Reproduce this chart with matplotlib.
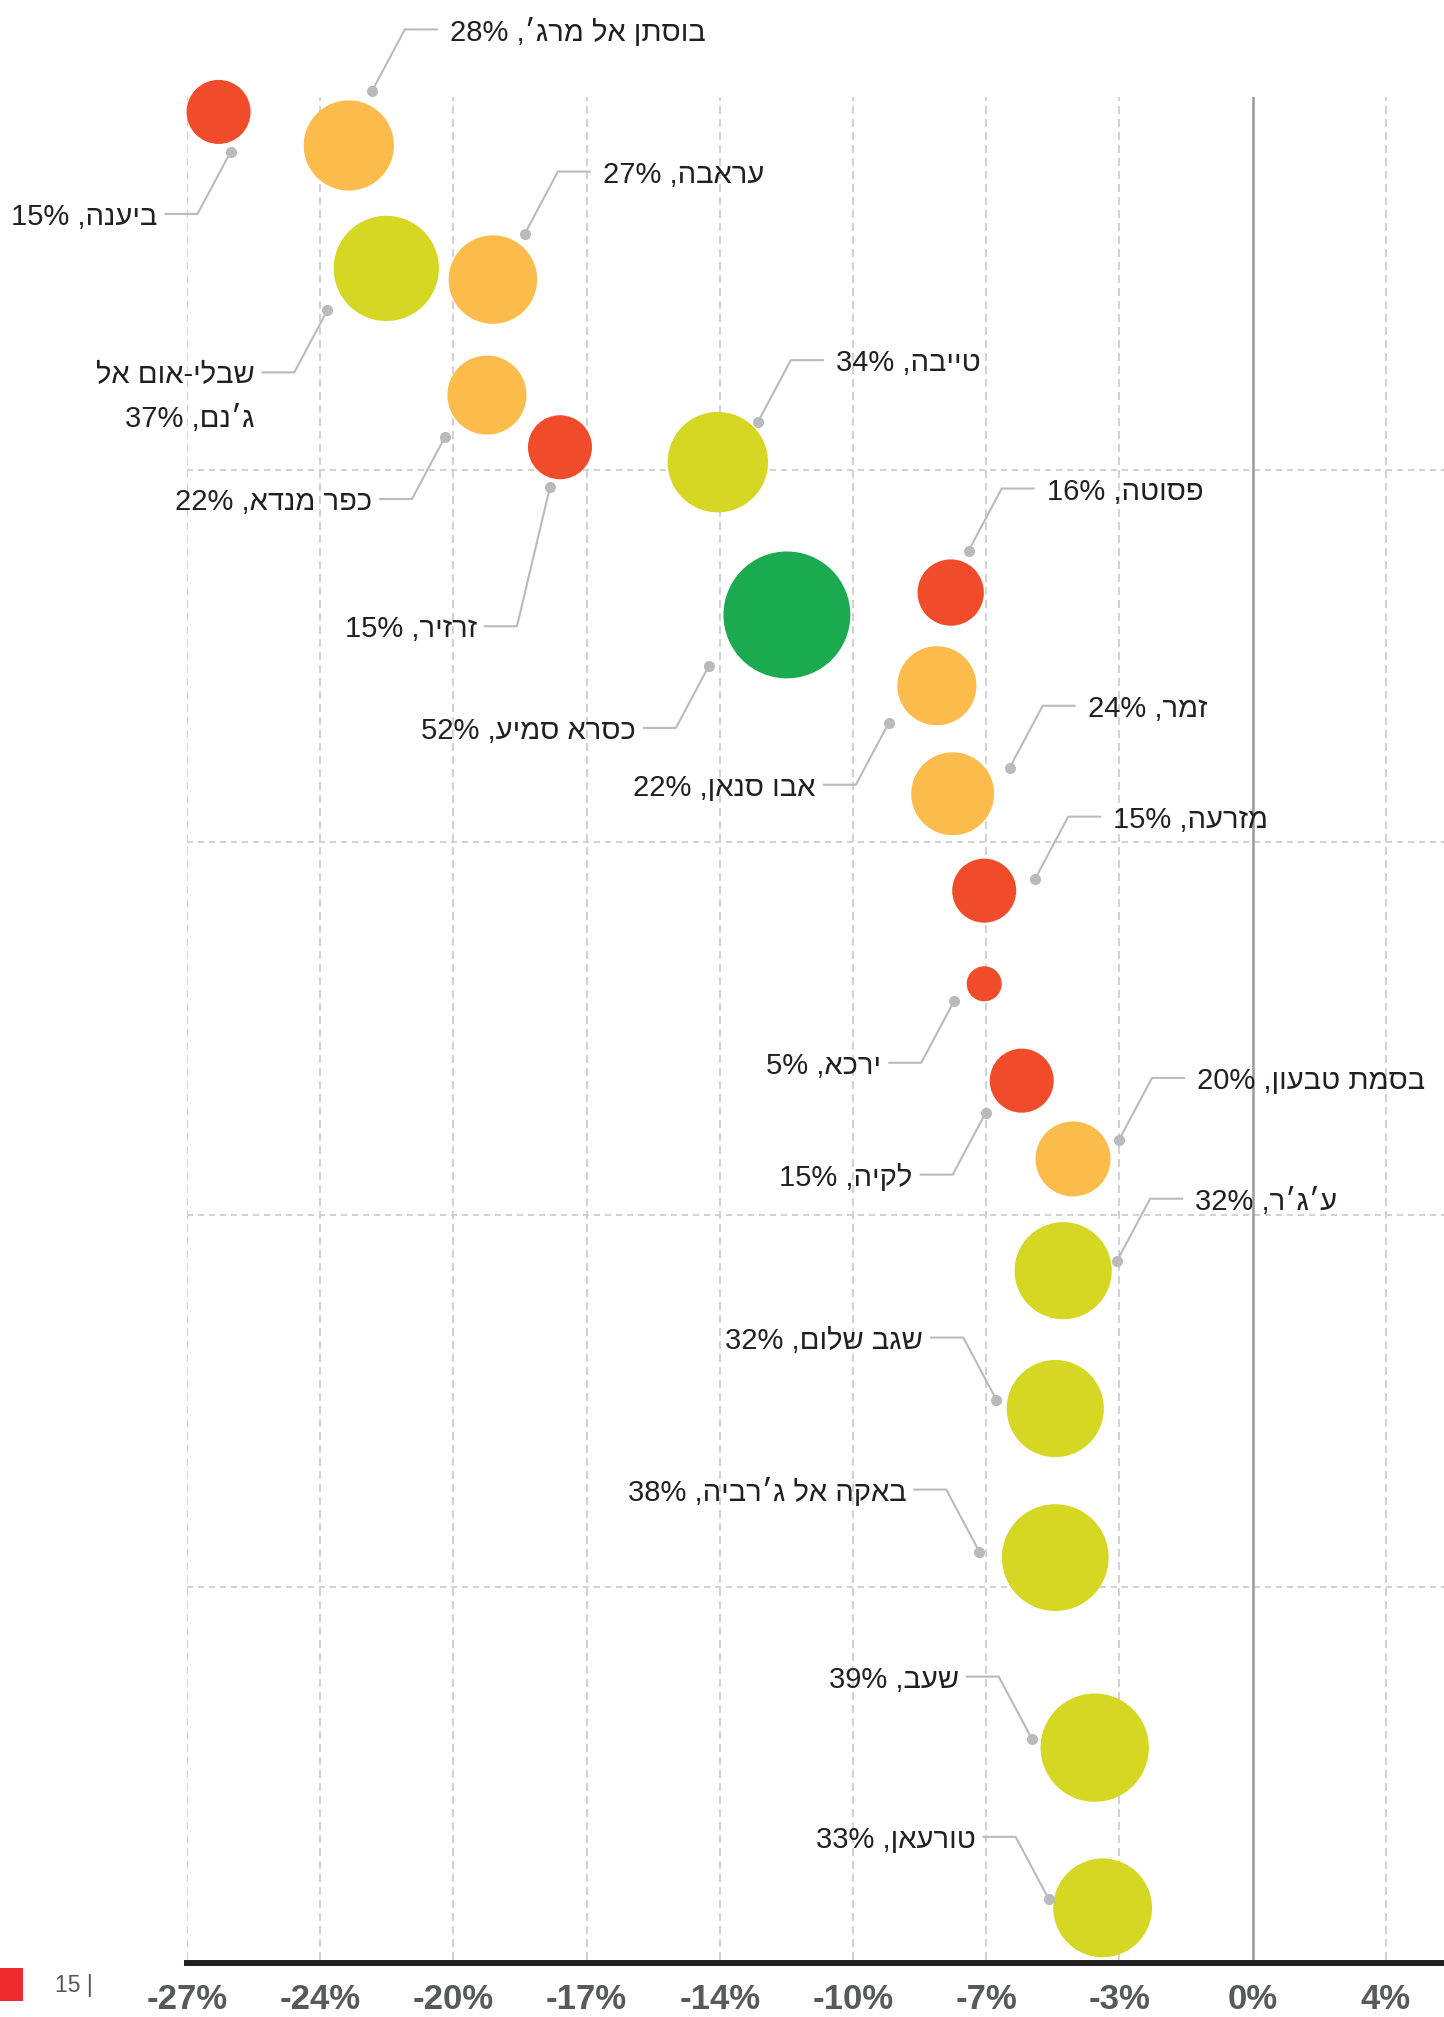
"""
Bubble chart: change vs. share for Arab and Druze localities.
"""

import matplotlib

matplotlib.use("Agg")
import matplotlib.pyplot as plt
from matplotlib.patches import Rectangle
from matplotlib.transforms import ScaledTranslation

# Data.
towns = [
    "ביענה",
    "בוסתן אל מרג׳",
    "שבלי-אום אל\nג׳נם",
    "עראבה",
    "כפר מנדא",
    "זרזיר",
    "טייבה",
    "פסוטה",
    "כסרא סמיע",
    "אבו סנאן",
    "זמר",
    "מזרעה",
    "ירכא",
    "לקיה",
    "בסמת טבעון",
    "ע׳ג׳ר",
    "שגב שלום",
    "באקה אל ג׳רביה",
    "שעב",
    "טורעאן",
]
share_pct = [15, 28, 37, 27, 22, 15, 34, 16, 52, 22, 24, 15, 5, 15, 20, 32, 32, 38, 39, 33]
change_pct = [
    -26.2, -22.9, -21.95, -19.25, -19.4, -17.55, -13.55, -7.65, -11.8, -8.0,
    -7.6, -6.8, -6.8, -5.85, -4.55, -4.8, -5.0, -5.0, -4.0, -3.8,
]
y_val = [
    4.96, 4.87, 4.54, 4.51, 4.20, 4.06, 4.02, 3.67, 3.61, 3.42,
    3.13, 2.87, 2.62, 2.36, 2.15, 1.85, 1.48, 1.08, 0.57, 0.14,
]
tick_labels = ["-27%", "-24%", "-20%", "-17%", "-14%", "-10%", "-7%", "-3%", "0%", "4%"]
page_number = "15 |"

# Leader layout in pixels: dot offset from bubble centre, elbow offset from dot
# (y grows downwards).
leaders = [
    (12, 40, -33, 62),
    (23, -54, 33, -62),
    (-59, 42, -33, 62),
    (32, -46, 33, -62),
    (-42, 42, -33, 62),
    (-10, 40, -33, 139),
    (40, -40, 33, -62),
    (18, -42, 33, -62),
    (-78, 51, -33, 62),
    (-48, 37, -33, 62),
    (57, -26, 33, -62),
    (51, -12, 33, -62),
    (-30, 17, -33, 62),
    (-36, 32, -33, 62),
    (46, -19, 33, -62),
    (54, -10, 33, -62),
    (-59, -9, -33, -62),
    (-76, -6, -33, -62),
    (-63, -9, -33, -62),
    (-54, -9, -33, -62),
]

RED = "#f04b2a"
ORANGE = "#fcbc4b"
LIME = "#d5d723"
GREEN = "#1baa4f"
GRID = "#d2d2d2"
LEADER = "#b9babd"
TEXT = "#231f20"

HEB_FONT = ["Liberation Sans", "DejaVu Sans"]
TICK_FONT = ["Liberation Sans Narrow", "Liberation Sans", "DejaVu Sans"]

DPI = 100
W, H = 1444, 2017


def bubble_colour(v):
    if v < 18:
        return RED
    if v < 30:
        return ORANGE
    if v < 45:
        return LIME
    return GREEN


def visual(line):
    # matplotlib has no bidi support: reverse Hebrew runs by hand.
    return line[::-1]


fig = plt.figure(figsize=(W / DPI, H / DPI), dpi=DPI)
ax = fig.add_axes([187 / W, 1 - 1960 / H, (W - 187) / W, (1960 - 97) / H])

# Spines first: set_position resets the ticks.
for side in ("top", "left", "right"):
    ax.spines[side].set_visible(False)
ax.spines["bottom"].set_color(TEXT)
ax.spines["bottom"].set_linewidth(4.3)
ax.spines["bottom"].set_position(("outward", 2.2))

step = 3.375
ticks = [-27 + step * k for k in range(len(tick_labels))]
ax.set_xlim(-27, -27 + (W - 187) / 133.2 * step)
ax.set_ylim(0, 5)

for t in ticks:
    if abs(t) < 1e-9:
        ax.axvline(t, color="#9a9a9a", lw=1.8, zorder=1)
    else:
        ax.axvline(t, color=GRID, lw=1.44, dashes=(4, 2.5), zorder=0)
for yy in range(1, 5):
    ax.axhline(yy, color=GRID, lw=1.44, dashes=(3, 2.5), zorder=0)

ax.set_yticks([])
ax.set_xticks(ticks)
ax.tick_params(axis="x", length=0, pad=14, labelsize=25, labelcolor="#58595b")
ax.set_xticklabels(tick_labels, family=TICK_FONT, fontweight="bold")

# Bubbles: area grows with the share.
radii_pt = [7.22 * v ** 0.55 * 72 / DPI for v in share_pct]
ax.scatter(
    change_pct,
    y_val,
    s=[(2 * r) ** 2 for r in radii_pt],
    c=[bubble_colour(v) for v in share_pct],
    linewidths=0,
    zorder=3,
    clip_on=False,
)

# Leader lines and labels.
for name, v, x, y, (dx, dy, ex, ey) in zip(towns, share_pct, change_pct, y_val, leaders):
    trans = fig.dpi_scale_trans + ScaledTranslation(x, y, ax.transData)
    sgn = 1 if ex > 0 else -1
    px = [dx, dx + ex, dx + ex + sgn * 32]
    py = [dy, dy + ey, dy + ey]
    ax.plot(
        [p / DPI for p in px], [-p / DPI for p in py],
        transform=trans, color=LEADER, lw=1.5, zorder=4, clip_on=False,
    )
    ax.plot(
        [dx / DPI], [-dy / DPI], "o", ms=7, color=LEADER,
        transform=trans, zorder=4, clip_on=False,
    )
    lines = name.split("\n")
    tx = px[-1] + sgn * (13 if sgn > 0 else 8)
    for i, line in enumerate(lines):
        txt = visual(line)
        if i == len(lines) - 1:
            txt = f"{v}% ," + txt
        ax.text(
            tx / DPI, -(py[-1] + i * 44) / DPI, txt,
            transform=trans, ha="left" if sgn > 0 else "right",
            va="center_baseline", fontsize=21, color=TEXT,
            family=HEB_FONT, zorder=5, clip_on=False,
        )

# Page furniture.
fig.patches.append(
    Rectangle((0, 1 - 2001 / H), 23 / W, 33 / H, transform=fig.transFigure,
              color="#ee2a2e", lw=0)
)
fig.text(55 / W, 1 - 1985 / H, page_number, fontsize=16.5, color="#555555",
         family=HEB_FONT, va="center", ha="left")

fig.savefig("out.png", dpi=DPI)
